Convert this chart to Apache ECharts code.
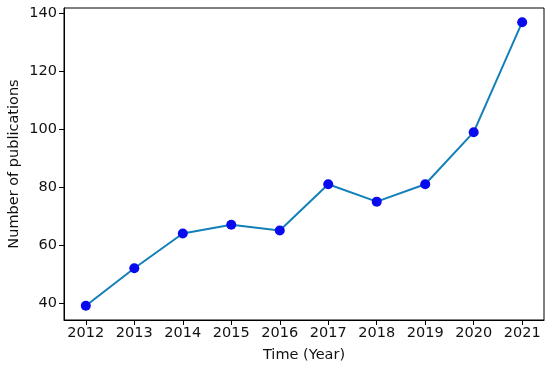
<!DOCTYPE html>
<html><head><meta charset="utf-8">
<script src="https://cdn.jsdelivr.net/npm/echarts@6/dist/echarts.min.js"></script>
<style>html,body{margin:0;padding:0;background:#fff}#c{width:550px;height:368px}</style>
</head><body><div id="c"></div>
<script>
const years = [2012, 2013, 2014, 2015, 2016, 2017, 2018, 2019, 2020, 2021];
const publications = [39, 52, 64, 67, 65, 81, 75, 81, 99, 137];
const yTicks = [40, 60, 80, 100, 120, 140];

const chart = echarts.init(document.getElementById('c'), null, {renderer: 'canvas'});
const font = 'DejaVu Sans';
chart.setOption({
  animation: false,
  backgroundColor: '#fff',
  grid: {left: 64, right: 6, top: 8, bottom: 48, containLabel: false, outerBoundsMode: 'none', show: true, borderColor: '#000', borderWidth: 1, backgroundColor: 'transparent'},
  xAxis: {
    type: 'value', min: 2011.55, max: 2021.45,
    name: 'Time (Year)', nameLocation: 'middle', nameGap: 28,
    nameTextStyle: {fontFamily: font, fontSize: 14.5, color: '#111'},
    axisLine: {show: true, onZero: false, lineStyle: {color: '#000', width: 1}},
    axisTick: {show: true, length: 5, customValues: years, lineStyle: {color: '#000'}},
    axisLabel: {customValues: years, fontFamily: font, fontSize: 14.5, color: '#111', margin: 6, formatter: v => String(v)},
    splitLine: {show: false}
  },
  yAxis: {
    type: 'value', min: 34.1, max: 141.9,
    name: 'Number of publications', nameLocation: 'middle', nameGap: 42, nameRotate: 90, nameMoveOverlap: false,
    nameTextStyle: {fontFamily: font, fontSize: 14.5, color: '#111'},
    axisLine: {show: true, onZero: false, lineStyle: {color: '#000', width: 1}},
    axisTick: {show: true, length: 5, customValues: yTicks, lineStyle: {color: '#000'}},
    axisLabel: {customValues: yTicks, fontFamily: font, fontSize: 14.5, color: '#111', margin: 7},
    splitLine: {show: false}
  },
  series: [{
    type: 'line',
    data: years.map((y, i) => [y, publications[i]]),
    lineStyle: {color: '#1380b8', width: 2},
    symbol: 'circle', symbolSize: 10,
    itemStyle: {color: '#0a0aee', borderWidth: 0},
    z: 3
  }]
});
</script></body></html>
